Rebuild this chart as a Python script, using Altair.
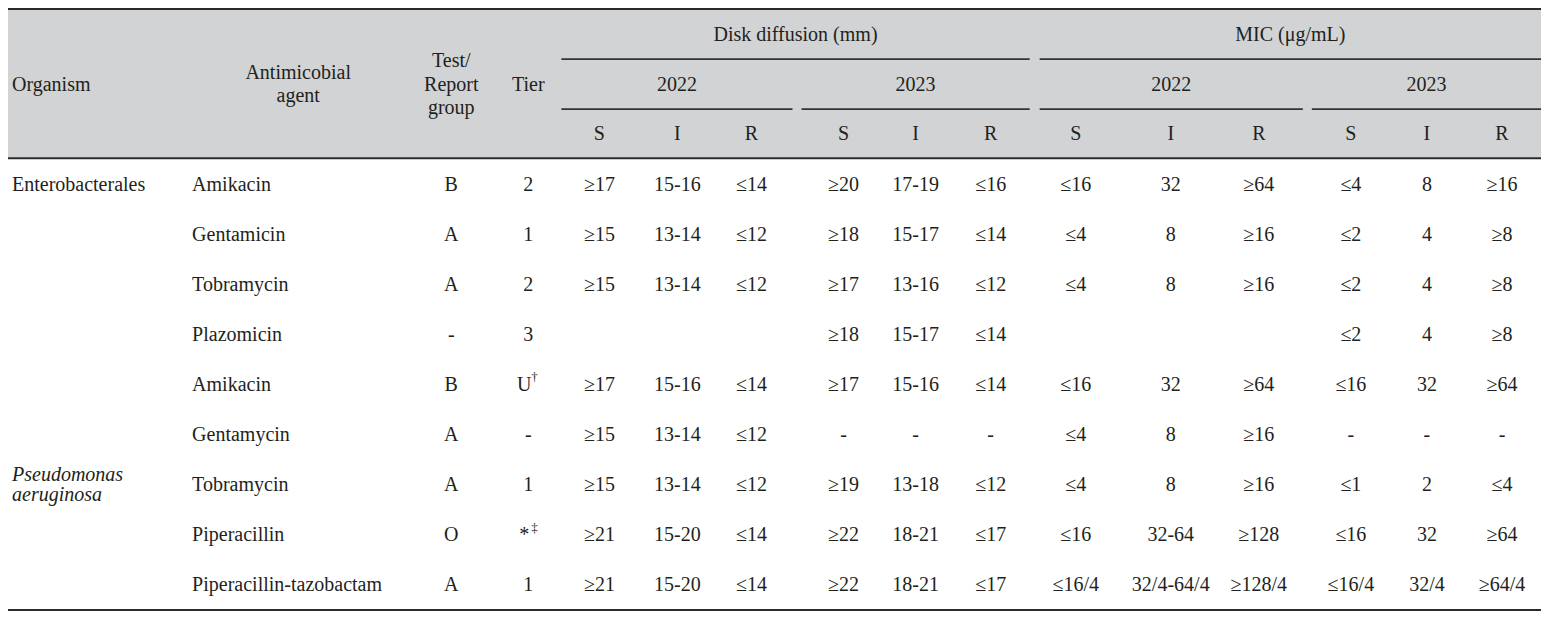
import altair as alt
import pandas as pd

# ---------------- data ----------------
organisms = ["Enterobacterales", "", "", "", "", "", "Pseudomonas\naeruginosa", "", ""]
agents = ["Amikacin", "Gentamicin", "Tobramycin", "Plazomicin", "Amikacin",
          "Gentamycin", "Tobramycin", "Piperacillin", "Piperacillin-tazobactam"]
groups = ["B", "A", "A", "-", "B", "A", "A", "O", "A"]
tiers = ["2", "1", "2", "3", "U", "-", "1", "*", "1"]
tier_marks = ["", "", "", "", "†", "", "", "‡", ""]

disk_2022_S = ["≥17", "≥15", "≥15", "", "≥17", "≥15", "≥15", "≥21", "≥21"]
disk_2022_I = ["15-16", "13-14", "13-14", "", "15-16", "13-14", "13-14", "15-20", "15-20"]
disk_2022_R = ["≤14", "≤12", "≤12", "", "≤14", "≤12", "≤12", "≤14", "≤14"]
disk_2023_S = ["≥20", "≥18", "≥17", "≥18", "≥17", "-", "≥19", "≥22", "≥22"]
disk_2023_I = ["17-19", "15-17", "13-16", "15-17", "15-16", "-", "13-18", "18-21", "18-21"]
disk_2023_R = ["≤16", "≤14", "≤12", "≤14", "≤14", "-", "≤12", "≤17", "≤17"]
mic_2022_S = ["≤16", "≤4", "≤4", "", "≤16", "≤4", "≤4", "≤16", "≤16/4"]
mic_2022_I = ["32", "8", "8", "", "32", "8", "8", "32-64", "32/4-64/4"]
mic_2022_R = ["≥64", "≥16", "≥16", "", "≥64", "≥16", "≥16", "≥128", "≥128/4"]
mic_2023_S = ["≤4", "≤2", "≤2", "≤2", "≤16", "-", "≤1", "≤16", "≤16/4"]
mic_2023_I = ["8", "4", "4", "4", "32", "-", "2", "32", "32/4"]
mic_2023_R = ["≥16", "≥8", "≥8", "≥8", "≥64", "-", "≤4", "≥64", "≥64/4"]

value_cols = [disk_2022_S, disk_2022_I, disk_2022_R, disk_2023_S, disk_2023_I, disk_2023_R,
              mic_2022_S, mic_2022_I, mic_2022_R, mic_2023_S, mic_2023_I, mic_2023_R]
sir_labels = ["S", "I", "R"] * 4
year_labels = ["2022", "2023", "2022", "2023"]
group_headers = ["Disk diffusion (mm)", "MIC (μg/mL)"]

# ---------------- layout ----------------
FONT = "Liberation Serif"
FS = 20
INK = "#231f20"
LEFT, RIGHT = 6, 1538
VAL_X = [597, 675, 749, 841, 913, 988, 1073, 1168, 1256, 1348, 1424, 1499]
ORG_X, AGENT_X, GROUP_X, TIER_X = 10, 190, 449, 526
ROW_Y0, ROW_DY = 183, 51
HDR_Y = [30, 81, 131]
YEAR_SPANS = [(559, 790), (799, 1027), (1037, 1300), (1309, LEFT + (RIGHT - LEFT))]
GROUP_SPANS = [(559, 1027), (1037, RIGHT)]

xs = alt.Scale(domain=[LEFT, RIGHT], range=[0, 1533])
ys = alt.Scale(domain=[4, 616], range=[1, 602])

center_rows, left_rows, italic_rows, sup_rows = [], [], [], []

# header texts
for (a, b), t in zip(GROUP_SPANS, group_headers):
    center_rows.append(dict(x=(a + b) / 2, y=HDR_Y[0], text=t))
for (a, b), t in zip(YEAR_SPANS, year_labels):
    center_rows.append(dict(x=(a + b) / 2, y=HDR_Y[1], text=t))
for x, t in zip(VAL_X, sir_labels):
    center_rows.append(dict(x=x, y=HDR_Y[2], text=t))
left_rows.append(dict(x=ORG_X, y=HDR_Y[1], text="Organism"))
for k, t in enumerate(["Antimicobial", "agent"]):
    center_rows.append(dict(x=296, y=HDR_Y[1] - 12 + 24 * k, text=t))
for k, t in enumerate(["Test/", "Report", "group"]):
    center_rows.append(dict(x=GROUP_X, y=HDR_Y[1] - 24 + 24 * k, text=t))
center_rows.append(dict(x=TIER_X, y=HDR_Y[1], text="Tier"))

# body texts
for i in range(len(agents)):
    y = ROW_Y0 + ROW_DY * i
    lines = organisms[i].split("\n") if organisms[i] else []
    if len(lines) == 1:
        left_rows.append(dict(x=ORG_X, y=y, text=lines[0]))
    elif len(lines) > 1:
        for k, t in enumerate(lines):
            italic_rows.append(dict(x=ORG_X, y=y - 10 + 20 * k, text=t))
    left_rows.append(dict(x=AGENT_X, y=y, text=agents[i]))
    center_rows.append(dict(x=GROUP_X, y=y, text=groups[i]))
    if tier_marks[i]:
        center_rows.append(dict(x=TIER_X - 4, y=y, text=tiers[i]))
        sup_rows.append(dict(x=TIER_X + 3, y=y - 8, text=tier_marks[i]))
    else:
        center_rows.append(dict(x=TIER_X, y=y, text=tiers[i]))
    for x, col in zip(VAL_X, value_cols):
        if col[i]:
            center_rows.append(dict(x=x, y=y, text=col[i]))

# lines
thick_rules = pd.DataFrame([
    dict(x=LEFT, x2=RIGHT, y=4),
    dict(x=LEFT, x2=RIGHT, y=156),
    dict(x=LEFT, x2=RIGHT, y=616),
])
thin_rules = pd.DataFrame(
    [dict(x=a, x2=b, y=55) for a, b in GROUP_SPANS] +
    [dict(x=a, x2=b, y=106) for a, b in YEAR_SPANS]
)
bg = pd.DataFrame([dict(x=LEFT, x2=RIGHT, y=5, y2=156)])


def enc(chart, **extra):
    return chart.encode(
        x=alt.X("x:Q", scale=xs, axis=None),
        y=alt.Y("y:Q", scale=ys, axis=None),
        **extra,
    )


bg_layer = alt.Chart(bg).mark_rect(color="#d1d3d4").encode(
    x=alt.X("x:Q", scale=xs, axis=None), x2="x2:Q",
    y=alt.Y("y:Q", scale=ys, axis=None), y2="y2:Q",
)
thick_layer = alt.Chart(thick_rules).mark_rule(color="#2b2b2b", strokeWidth=2).encode(
    x=alt.X("x:Q", scale=xs, axis=None), x2="x2:Q",
    y=alt.Y("y:Q", scale=ys, axis=None),
)
thin_layer = alt.Chart(thin_rules).mark_rule(color="#333333", strokeWidth=1.6).encode(
    x=alt.X("x:Q", scale=xs, axis=None), x2="x2:Q",
    y=alt.Y("y:Q", scale=ys, axis=None),
)

text_kw = dict(font=FONT, fontSize=FS, color=INK, baseline="middle")
center_layer = enc(alt.Chart(pd.DataFrame(center_rows)).mark_text(align="center", **text_kw), text="text:N")
left_layer = enc(alt.Chart(pd.DataFrame(left_rows)).mark_text(align="left", **text_kw), text="text:N")
italic_layer = enc(alt.Chart(pd.DataFrame(italic_rows)).mark_text(align="left", fontStyle="italic", **text_kw), text="text:N")
sup_layer = enc(alt.Chart(pd.DataFrame(sup_rows)).mark_text(align="left", font=FONT, fontSize=13, color=INK, baseline="middle"), text="text:N")

chart = alt.layer(
    bg_layer, thick_layer, thin_layer, center_layer, left_layer, italic_layer, sup_layer
).properties(
    width=1535, height=603, padding=0, autosize=alt.AutoSizeParams(type="none"),
    background="white",
).configure_view(stroke=None)

chart.save("out.html", embed_options={"renderer": "svg", "actions": False})
